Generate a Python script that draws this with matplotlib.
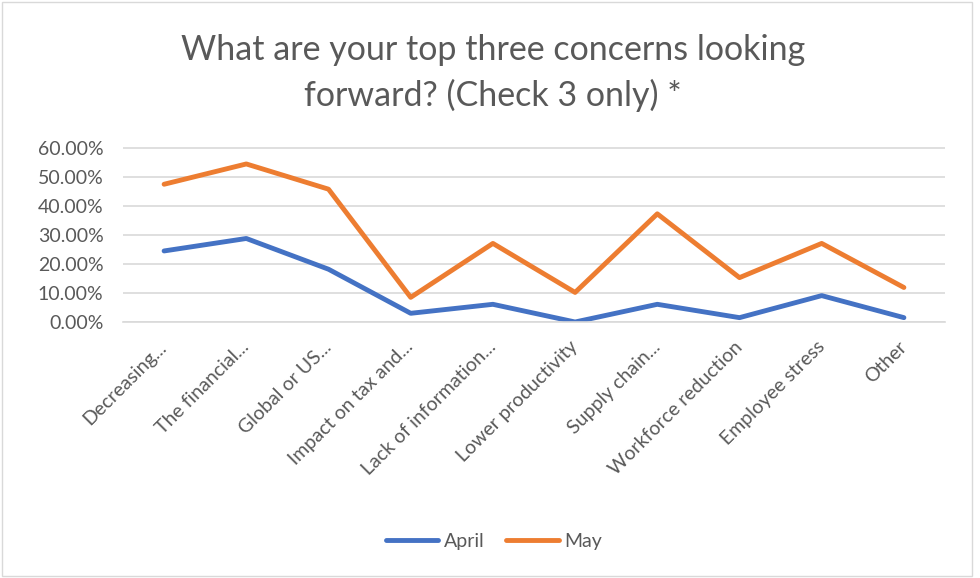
import matplotlib.pyplot as plt
from matplotlib.ticker import PercentFormatter
from matplotlib.patches import Rectangle

categories = ["Decreasing...", "The financial...", "Global or US...", "Impact on tax and...",
              "Lack of information...", "Lower productivity", "Supply chain...",
              "Workforce reduction", "Employee stress", "Other"]
april = [24.5, 28.8, 18.2, 3.0, 6.1, 0.0, 6.1, 1.5, 9.1, 1.5]
may = [47.5, 54.5, 45.8, 8.5, 27.1, 10.2, 37.3, 15.3, 27.1, 11.9]

plt.rcParams['font.family'] = ['Lato', 'DejaVu Sans']
gray = '#595959'

fig = plt.figure(figsize=(9.8, 5.78), dpi=100)
ax = fig.add_axes([123/980, 1 - 322/578, (945-123)/980, 174/578 * 70/60])

x = range(len(categories))
ax.plot(x, april, color='#4472C4', lw=3.5, solid_capstyle='round', solid_joinstyle='round', label='April')
ax.plot(x, may, color='#ED7D31', lw=3.5, solid_capstyle='round', solid_joinstyle='round', label='May')

ax.set_xlim(-0.5, len(categories) - 0.5)
ax.set_ylim(0, 70)
ax.set_yticks([0, 10, 20, 30, 40, 50, 60])
ax.yaxis.set_major_formatter(PercentFormatter(decimals=2))
ax.grid(axis='y', color='#d9d9d9', lw=1.2)
ax.set_axisbelow(True)
for s in ax.spines.values():
    s.set_visible(False)
ax.spines['bottom'].set_visible(True)
ax.spines['bottom'].set_color('#d9d9d9')
ax.spines['bottom'].set_linewidth(1.2)
ax.tick_params(length=0, colors=gray, labelsize=14)
ax.tick_params(axis='y', pad=14)
ax.set_xticks(list(x))
ax.set_xticklabels(categories, rotation=45, ha='right', va='center', rotation_mode='anchor')
ax.tick_params(axis='x', pad=16)

fig.text(0.503, 1 - 50/578, "What are your top three concerns looking", ha='center', va='center',
         fontsize=24.5, color=gray)
fig.text(0.503, 1 - 95/578, "forward? (Check 3 only) *", ha='center', va='center',
         fontsize=24.5, color=gray)

leg = fig.legend(loc='center', bbox_to_anchor=(494/980, 1 - 541/578), ncol=2, frameon=False,
                 fontsize=14, handlelength=2.7, columnspacing=1.1, handletextpad=0.3)
for t in leg.get_texts():
    t.set_color(gray)
for h in leg.get_lines():
    h.set_solid_capstyle('round')

fig.patches.append(Rectangle((2/980, 2/578), 970/980, 574/578, transform=fig.transFigure,
                             fill=False, edgecolor='#d9d9d9', lw=1))

fig.savefig('out.png', dpi=100)
